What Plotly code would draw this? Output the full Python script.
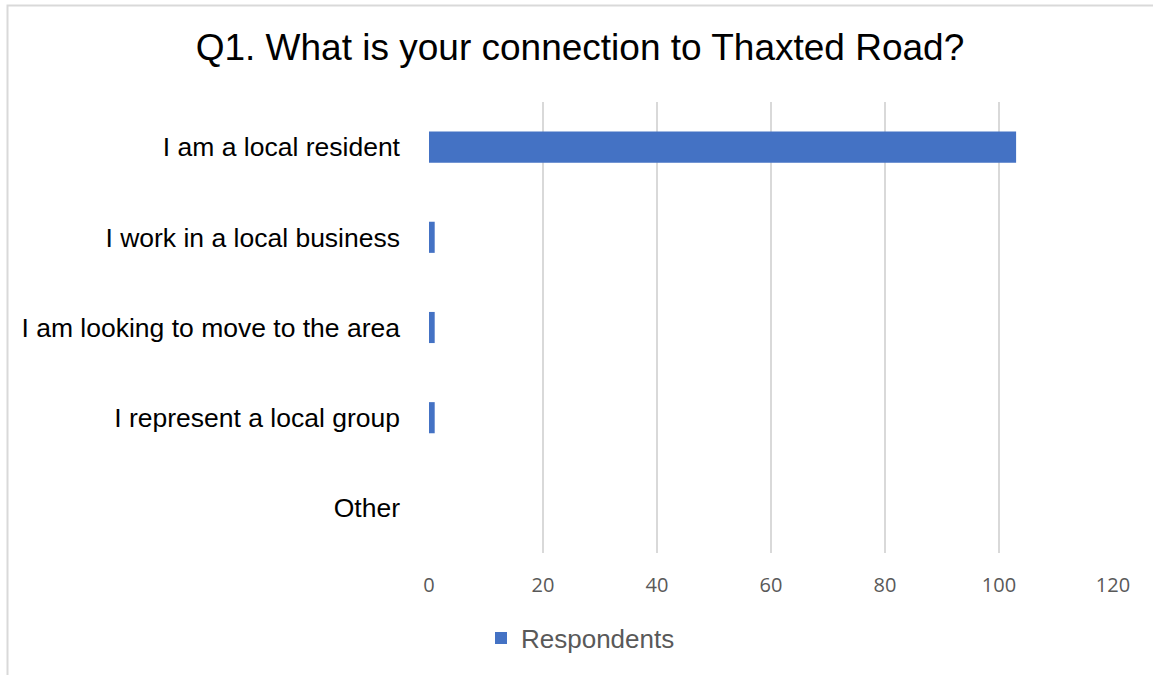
import plotly.graph_objects as go

categories = ["I am a local resident", "I work in a local business",
              "I am looking to move to the area", "I represent a local group", "Other"]
respondents = [103, 1, 1, 1, 0]
x_ticks = [0, 20, 40, 60, 80, 100, 120]

W, H = 1153, 675
L, R, T, B = 429, 40, 102, 122
pw, ph = W - L - R, H - T - B

def px_x(p):
    return (p - L) / pw

def px_y(p):
    return 1 - (p - T) / ph

fig = go.Figure()
fig.add_trace(go.Bar(
    y=categories, x=respondents, orientation="h", name="Respondents",
    marker=dict(color="#4472C4", line=dict(width=0)), width=0.345,
))

fig.update_layout(
    width=W, height=H,
    margin=dict(l=L, r=R, t=T, b=B, autoexpand=False),
    paper_bgcolor="white", plot_bgcolor="white",
    title=dict(text="Q1. What is your connection to Thaxted Road?",
               x=0.503, xanchor="center", y=1 - 47 / H, yanchor="middle",
               font=dict(family="Liberation Sans, Arial", size=37, color="#000000")),
    xaxis=dict(range=[0, 120], tickvals=x_ticks, showgrid=True, gridcolor="#d9d9d9",
               gridwidth=1.5, zeroline=False, showline=False, ticks="",
               tickfont=dict(family="Open Sans, Liberation Sans", size=20, color="#595959"),
               ticklabelstandoff=18),
    yaxis=dict(categoryorder="array", categoryarray=categories[::-1], autorange=False,
               range=[-0.5, 4.5], showgrid=False, zeroline=False, showline=False, ticks="",
               tickfont=dict(family="Liberation Sans, Arial", size=26.5, color="#000000"),
               ticklabelstandoff=28),
    showlegend=True,
    legend=dict(orientation="h", x=px_x(481), xanchor="left", y=px_y(638), yanchor="middle",
                font=dict(family="Liberation Sans, Arial", size=26, color="#595959"),
                itemwidth=30, bgcolor="rgba(0,0,0,0)"),
    bargap=0.655,
)

fig.add_shape(type="rect", xref="paper", yref="paper",
              x0=px_x(7.5), x1=px_x(1170), y0=px_y(700), y1=px_y(5.5),
              line=dict(color="#d9d9d9", width=2), fillcolor="rgba(0,0,0,0)", layer="below")

fig.write_html("out.html")
